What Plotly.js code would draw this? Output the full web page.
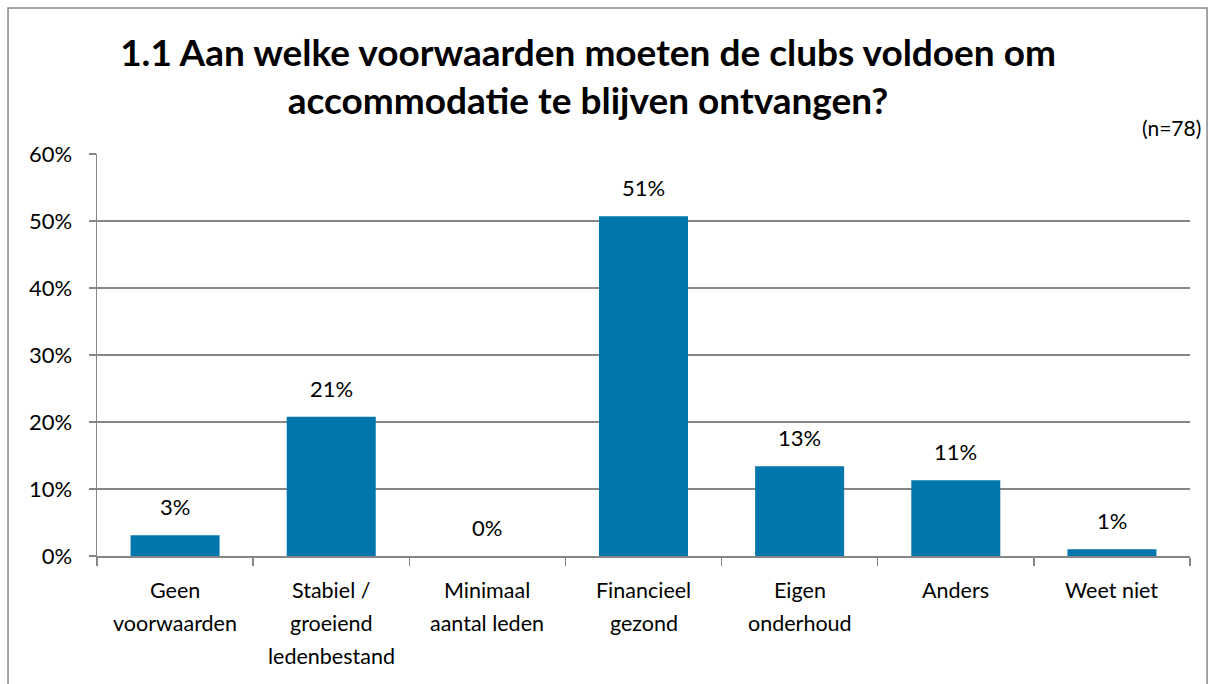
<!DOCTYPE html>
<html><head><meta charset="utf-8">
<script src="https://cdn.plot.ly/plotly-3.0.1.min.js"></script>
<style>html,body{margin:0;padding:0;background:#fff;overflow:hidden}#c{width:1215px;height:684px}</style>
</head><body><div id="c"></div>
<script>
const categories = ["Geen voorwaarden","Stabiel / groeiend ledenbestand","Minimaal aantal leden","Financieel gezond","Eigen onderhoud","Anders","Weet niet"];
const categoryLines = [["Geen","voorwaarden"],["Stabiel /","groeiend","ledenbestand"],["Minimaal","aantal leden"],["Financieel","gezond"],["Eigen","onderhoud"],["Anders"],["Weet niet"]];
const values = [0.031, 0.208, 0, 0.507, 0.134, 0.113, 0.010];
const valueLabels = ["3%","21%","0%","51%","13%","11%","1%"];
const yTicks = [0,0.1,0.2,0.3,0.4,0.5,0.6];
const yTickLabels = ["0%","10%","20%","30%","40%","50%","60%"];

const font = "Lato, 'Open Sans', sans-serif";
const trace = {
  type: 'bar', x: categories, y: values,
  marker: {color: '#0076AD'}, hoverinfo: 'none'
};
const annotations = categories.map((c,i)=>({
  x: c, y: values[i], xref:'x', yref:'y', text: valueLabels[i], showarrow:false,
  yanchor:'bottom', yshift: 13, font:{family:font, size:22, color:'#000'}
}));
categoryLines.forEach((lines,i)=>{
  lines.forEach((ln,k)=>{
    annotations.push({x: categories[i], y: 0, xref:'x', yref:'y', text: ln, showarrow:false,
      yanchor:'middle', yshift: -(34 + 33*k), font:{family:font, size:21.5, color:'#000'}});
  });
});
annotations.push({xref:'paper', yref:'paper', x:1.012, y:1.03, xanchor:'right', yanchor:'bottom',
  text:'(n=78)', showarrow:false, font:{family:font, size:21, color:'#000'}});
const layout = {
  width:1215, height:684,
  margin:{l:97, r:25, t:154, b:128},
  paper_bgcolor:'#fff', plot_bgcolor:'#fff',
  title:{text:'1.1 Aan welke voorwaarden moeten de clubs voldoen om<br>accommodatie te blijven ontvangen?',
    font:{family:font, size:37, color:'#000', weight:'bold'}, x:0.484, xanchor:'center', y:0.903, yanchor:'top'},
  showlegend:false, bargap:0.43,
  xaxis:{type:'category', showline:true, linecolor:'#868686', linewidth:1.5,
    ticks:'outside', tickson:'boundaries', ticklen:8, tickcolor:'#868686', tickwidth:1.5,
    showticklabels:false, showgrid:false, fixedrange:true},
  yaxis:{range:[0,0.6], tickvals:yTicks, ticktext:yTickLabels, showline:true, linecolor:'#868686', linewidth:1.5,
    ticks:'outside', ticklen:7, tickcolor:'#868686', tickwidth:1.5, ticklabelstandoff:12,
    gridcolor:'#868686', gridwidth:1.5, zeroline:false,
    tickfont:{family:font, size:22, color:'#000'}, fixedrange:true},
  annotations: annotations,
  shapes:[{type:'rect', xref:'paper', yref:'paper', x0:-0.0814, x1:1.0156, y0:-0.5, y1:1.363,
    line:{color:'#888', width:1.5}, fillcolor:'rgba(0,0,0,0)', layer:'below'}]
};
Plotly.newPlot('c',[trace],layout,{displayModeBar:false, staticPlot:true});
</script></body></html>
